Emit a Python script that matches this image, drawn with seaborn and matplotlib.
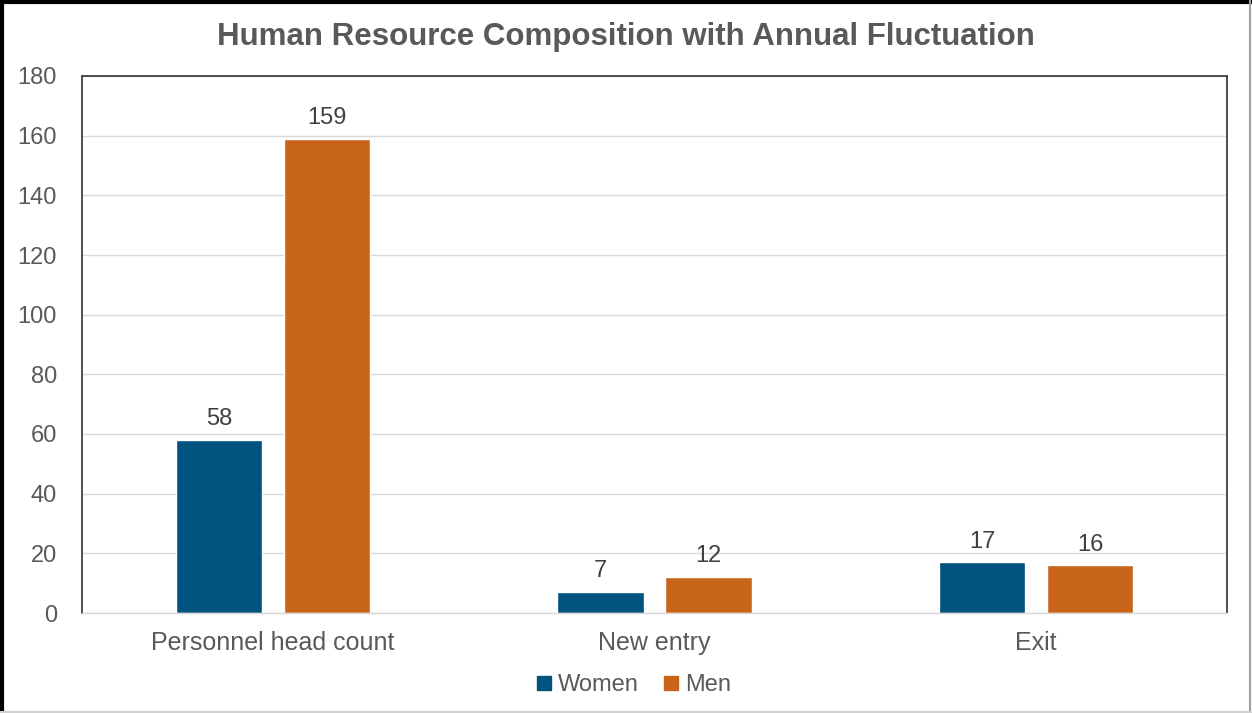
import matplotlib
matplotlib.use("Agg")
import matplotlib.pyplot as plt
from matplotlib.lines import Line2D
import seaborn as sns
import pandas as pd

categories = ["Personnel head count", "New entry", "Exit"]
women = [58, 7, 17]
men = [159, 12, 16]
series_names = ["Women", "Men"]
colors = ["#00527F", "#C8651B"]
y_ticks = [0, 20, 40, 60, 80, 100, 120, 140, 160, 180]

df = pd.DataFrame({
    "category": categories * 2,
    "gender": [series_names[0]] * len(categories) + [series_names[1]] * len(categories),
    "value": women + men,
})

sns.set_theme(style="white")
plt.rcParams["font.family"] = ["Liberation Sans", "DejaVu Sans"]

fig = plt.figure(figsize=(12.52, 7.13), dpi=100)
ax = fig.add_axes([82 / 1252, 1 - 613 / 713, (1227 - 82) / 1252, (613 - 76) / 713])

sns.barplot(data=df, x="category", y="value", hue="gender", order=categories,
            hue_order=series_names, palette=colors, width=0.565, gap=0.2,
            saturation=1, ax=ax, legend=False, errorbar=None)

ax.set_ylim(0, 180)
ax.set_yticks(y_ticks)
ax.set_xlim(-0.5, len(categories) - 0.5)
ax.yaxis.grid(True, color="#D9D9D9", linewidth=1)
ax.set_axisbelow(True)
ax.set_xlabel("")
ax.set_ylabel("")
ax.tick_params(axis="y", labelsize=17, labelcolor="#595959", length=0, pad=18)
ax.tick_params(axis="x", labelsize=18, labelcolor="#595959", length=0, pad=13)

for side in ["left", "right", "top"]:
    ax.spines[side].set_color("#404040")
    ax.spines[side].set_linewidth(1.3)
ax.spines["bottom"].set_color("#D9D9D9")
ax.spines["bottom"].set_linewidth(1)

for container in ax.containers:
    ax.bar_label(container, fmt="%d", padding=7, fontsize=17, color="#404040")

fig.text(0.5, 1 - 37 / 713, "Human Resource Composition with Annual Fluctuation",
         ha="center", va="center", fontsize=22.5, fontweight="bold", color="#595959")

handles = [Line2D([], [], marker="s", linestyle="", markersize=10,
                  markerfacecolor=c, markeredgecolor=c) for c in colors]
fig.legend(handles, series_names, loc="center", bbox_to_anchor=(632 / 1252, 1 - 685 / 713),
           ncol=2, frameon=False, fontsize=17, labelcolor="#595959",
           handletextpad=0.15, columnspacing=0.9, handlelength=0.9)

# outer frame
fig.add_artist(Line2D([0.0015, 0.0015], [0, 1], transform=fig.transFigure, color="black", linewidth=3))
fig.add_artist(Line2D([0, 1], [0.997, 0.997], transform=fig.transFigure, color="black", linewidth=3))
fig.add_artist(Line2D([0.9985, 0.9985], [0, 1], transform=fig.transFigure, color="#A0A0A0", linewidth=1.5))
fig.add_artist(Line2D([0, 1], [0.0015, 0.0015], transform=fig.transFigure, color="#D0D0D0", linewidth=1.5))

fig.savefig("out.png", dpi=100)
